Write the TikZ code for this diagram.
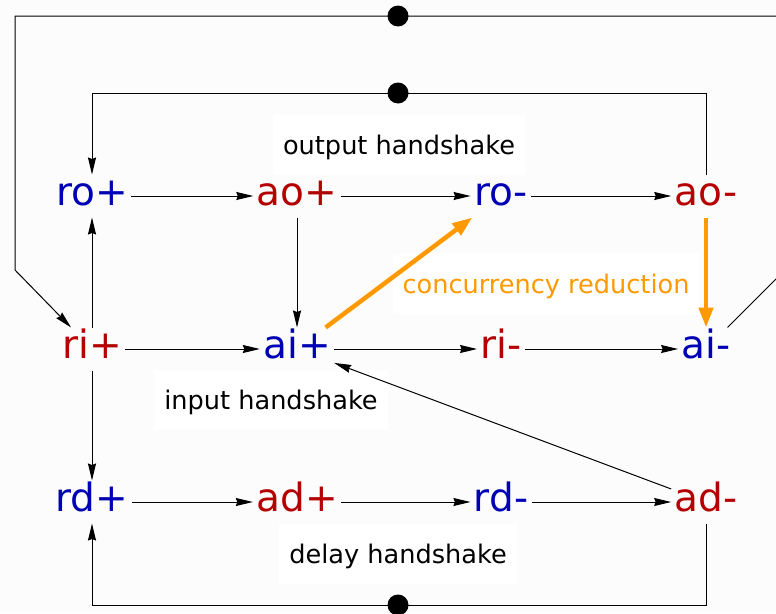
\documentclass[tikz,border=0pt]{standalone}
\usepackage{fontspec}
\setmainfont{DejaVu Sans}
\usepackage{xcolor}
\usepackage{tikz}
\usetikzlibrary{arrows.meta}
\definecolor{sigblue}{RGB}{0,0,180}
\definecolor{sigred}{RGB}{180,0,0}
\definecolor{cred}{RGB}{255,153,0}
\definecolor{bgcol}{RGB}{252,252,252}
\begin{document}
\begin{tikzpicture}[x=1pt,y=-1pt,line width=1pt,>={Stealth[length=17pt,width=8pt,inset=1.5pt]},
sig/.style={inner xsep=3pt,inner ysep=2pt,text height=28pt,text depth=10pt,font=\fontsize{39}{39}\selectfont},
blu/.style={sig,text=sigblue},
rd/.style={sig,text=sigred},
lbl/.style={fill=white,inner xsep=10pt,inner ysep=0pt,minimum height=60pt,text height=22pt,text depth=3pt,font=\fontsize{25.6}{26}\selectfont},
reduce/.style={line width=4.5pt,draw=cred,-{Triangle[length=20pt,width=14pt]}},
dot/.style={circle,fill=black,inner sep=0pt,minimum size=21pt}]
\useasboundingbox(0,0)rectangle(776,613);
\clip(0,0)rectangle(776,613);
\fill[bgcol](0,0)rectangle(776,613);
\node[lbl](outl)at(399,145){output handshake};
\node[lbl](inl)at(271,400){input handshake};
\node[lbl](dell)at(398,554){delay handshake};
\node[lbl,text=cred](conl)at(546,284){concurrency reduction};
\node[blu](rop)at(92,196){ro+};
\node[rd](aop)at(297,196){ao+};
\node[blu](rom)at(501,196){ro-};
\node[rd](aom)at(706,196){ao-};
\node[rd](rip)at(92,349){ri+};
\node[blu](aip)at(297,349){ai+};
\node[rd](rim)at(501,349){ri-};
\node[blu](aim)at(706,349){ai-};
\node[blu](rdp)at(92,502){rd+};
\node[rd](adp)at(297,502){ad+};
\node[blu](rdm)at(501,502){rd-};
\node[rd](adm)at(706,502){ad-};
\coordinate(c1)at(15,270);
\coordinate(c2)at(15,16);
\coordinate(c3)at(792,16);
\coordinate(c4)at(792,263);
\coordinate(d1)at(398,16);
\coordinate(d2)at(398,93);
\coordinate(d3)at(398,605);
\draw[->](rop)--(aop);
\draw[->](aop)--(rom);
\draw[->](rom)--(aom);
\draw[->](rip)--(aip);
\draw[->](aip)--(rim);
\draw[->](rim)--(aim);
\draw[->](rdp)--(adp);
\draw[->](adp)--(rdm);
\draw[->](rdm)--(adm);
\draw[->](rip)--(rop);
\draw[->](aop)--(aip);
\draw[->](rip)--(rdp);
\draw[->](adm)--(aip);
\draw[->](aim)--(c4)--(c3)--(c2)--(c1)--(rip);
\draw[->](aom)--(aom|-d2)--(rop|-d2)--(rop);
\draw[->](adm)--(adm|-d3)--(rdp|-d3)--(rdp);
\draw[reduce](aip)--(rom);
\draw[reduce](aom)--(aim);
\node[dot](dt1)at(d1){};
\node[dot](dt2)at(d2){};
\node[dot](dt3)at(d3){};
\end{tikzpicture}
\end{document}
